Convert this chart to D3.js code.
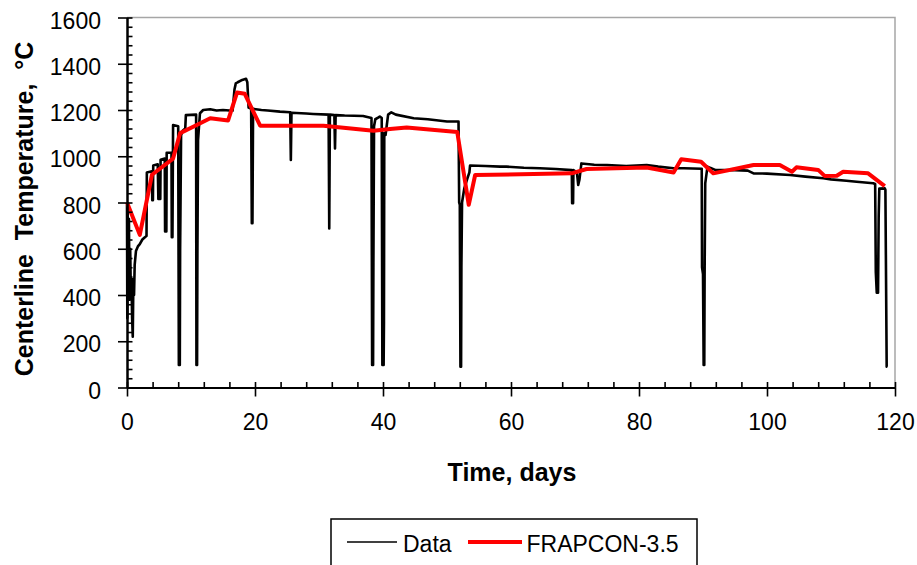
<!DOCTYPE html>
<html>
<head>
<meta charset="utf-8">
<script src="https://cdn.jsdelivr.net/npm/d3@7"></script>
<style>
  html, body { margin: 0; padding: 0; background: #fff; }
  svg { display: block; font-family: "Liberation Sans", Arial, sans-serif; }
</style>
</head>
<body>
<svg id="chart" width="917" height="565"></svg>
<script>
// ---- Data ----
const dataTime = [
  0.0, 0.05, 0.1, 0.2, 0.3, 0.4, 0.5, 0.6, 0.7, 0.8, 0.9, 1.0, 1.1, 1.2, 1.4, 1.7, 2.0, 2.4, 2.8, 3.05,
  3.1, 3.9, 3.95, 4.05, 4.1, 4.8, 4.9, 5.2, 5.25, 5.9, 5.95, 6.15, 6.2, 6.95, 7.0, 7.1, 7.2, 8.0,
  8.1, 8.25, 8.3, 8.45, 8.7, 9.1, 9.2, 10.8, 10.85, 10.95, 11.0, 11.1, 11.4, 11.9, 13.0, 14.0, 15.0,
  16.5, 16.8, 17.0, 17.3, 18.0, 18.6, 18.8, 19.0, 19.4, 19.5, 19.6, 19.7, 21.0, 22.0, 23.9, 25.5,
  25.6, 25.7, 28.0, 29.1, 31.5, 31.6, 31.7, 32.4, 32.5, 32.6, 34.0, 36.9, 38.2, 38.3, 38.45, 38.5,
  38.6, 38.8, 39.3, 39.5, 39.8, 39.9, 40.1, 40.15, 40.2, 40.4, 40.8, 41.3, 42.0, 44.8, 47.0, 50.0,
  51.8, 51.9, 52.0, 52.1, 52.2, 52.25, 52.35, 52.7, 53.2, 53.5, 53.6, 56.0, 58.3, 59.3, 62.0, 64.5,
  67.0, 69.5, 69.55, 69.7, 69.75, 70.3, 70.5, 70.7, 71.0, 73.0, 75.0, 78.0, 81.2, 83.0, 85.4, 87.0,
  89.8, 89.85, 90.0, 90.1, 90.2, 90.25, 90.35, 90.7, 91.1, 92.0, 95.0, 97.0, 97.9, 100.0, 103.6,
  106.0, 108.8, 110.0, 112.4, 114.0, 116.6, 116.9, 117.0, 117.15, 117.35, 117.45, 117.55, 118.4,
  118.5, 118.7, 118.8
];
const dataTemp = [
  790, 300, 760, 400, 730, 380, 600, 400, 470, 300, 220, 470, 400, 530, 590, 610, 620, 640, 650, 655,
  930, 935, 810, 810, 960, 965, 815, 815, 985, 990, 675, 675, 1015, 1015, 650, 650, 1135, 1130,
  97, 97, 590, 1090, 1110, 1120, 1178, 1180, 97, 97, 580, 1070, 1186, 1200, 1203, 1198, 1200,
  1197, 1290, 1315, 1320, 1330, 1335, 1320, 1210, 1205, 710, 710, 1205, 1200, 1198, 1193, 1190,
  984, 1188, 1185, 1183, 1180, 688, 1180, 1178, 1034, 1178, 1176, 1174, 1165, 97, 97, 540,
  1130, 1160, 1168, 1172, 1165, 97, 97, 285, 1100, 1092, 1180, 1190, 1180, 1164, 1160, 1150,
  1150, 800, 790, 90, 90, 520, 800, 861, 905, 930, 960, 958, 955, 955, 950, 948,
  945, 940, 797, 797, 940, 930, 876, 900, 969, 963, 962, 958, 962, 955, 948, 948,
  946, 520, 490, 97, 97, 480, 883, 955, 950, 940, 940, 938, 926, 925, 919,
  912, 905, 900, 894, 890, 883, 880, 500, 410, 410, 740, 860, 861,
  855, 90, 90
];

const frapconTime = [
  0, 2.0, 3.9, 7.2, 8.3, 10.9, 13.0, 15.8, 17.2, 18.4, 20.8, 30.7, 38.5, 41.1, 43.7, 51.6, 53.4,
  54.4, 69.5, 71.8, 81.2, 85.4, 86.6, 89.7, 91.6, 97.9, 102.0, 103.9, 104.6, 108.0, 109.0, 110.9,
  111.9, 115.8, 118.4
];
const frapconTemp = [
  800, 660, 920, 990, 1100, 1135, 1164, 1155, 1276, 1270, 1132, 1132, 1110, 1118, 1124, 1105, 790,
  919, 926, 945, 951, 930, 987, 976, 926, 962, 962, 933, 952, 941, 915, 916,
  933, 926, 871
];

const xMajorTicks = [0, 20, 40, 60, 80, 100, 120];
const xMinorTicks = d3.range(0, 121, 4);
const yMajorTicks = [0, 200, 400, 600, 800, 1000, 1200, 1400, 1600];
const yMinorTicks = d3.range(0, 1601, 40);

const seriesNames = ["Data", "FRAPCON-3.5"];
const xTitle = "Time, days";
const yTitle = "Centerline  Temperature,  °C";

// ---- Layout ----
const svg = d3.select("#chart");
const plotL = 127, plotR = 895, plotT = 17.5, plotB = 387.5;

const x = d3.scaleLinear().domain([0, 120]).range([plotL, plotR]);
const y = d3.scaleLinear().domain([0, 1600]).range([plotB, plotT]);

// frame (top & right, gray)
svg.append("path")
  .attr("d", `M${plotL},${plotT}H${plotR}V${plotB}`)
  .attr("fill", "none").attr("stroke", "#a6a6a6").attr("stroke-width", 1.5);

// series
const line = d3.line().x(d => x(d[0])).y(d => y(d[1]));
const dataPts = dataTime.map((t, i) => [t, dataTemp[i]]);
const fraPts = frapconTime.map((t, i) => [t, frapconTemp[i]]);

svg.append("path").datum(dataPts)
  .attr("d", line).attr("fill", "none")
  .attr("stroke", "#000").attr("stroke-width", 2.6)
  .attr("stroke-linejoin", "round");

svg.append("path").datum(fraPts)
  .attr("d", line).attr("fill", "none")
  .attr("stroke", "#ff0000").attr("stroke-width", 4)
  .attr("stroke-linejoin", "round");

// axes
function styleAxis(g) {
  g.selectAll("path.domain").attr("stroke", "#000").attr("stroke-width", 2);
  g.selectAll(".tick line").attr("stroke", "#000").attr("stroke-width", 1.6);
}

// y: inner ticks (minor + major)
svg.append("g").attr("transform", `translate(${plotL},0)`)
  .call(d3.axisRight(y).tickValues(yMinorTicks).tickSize(5.5).tickSizeOuter(0).tickFormat(""))
  .call(styleAxis);
// y: outer major ticks + labels
const yAx = svg.append("g").attr("transform", `translate(${plotL},0)`)
  .call(d3.axisLeft(y).tickValues(yMajorTicks).tickSize(9).tickPadding(17).tickSizeOuter(0).tickFormat(d3.format("d")))
  .call(styleAxis);
yAx.selectAll("text").attr("font-size", 23).attr("font-family", "Liberation Sans, Arial, sans-serif")
  .attr("fill", "#000").attr("dy", "0.465em");

// x: inner ticks
svg.append("g").attr("transform", `translate(0,${plotB})`)
  .call(d3.axisTop(x).tickValues(xMinorTicks).tickSize(5.5).tickSizeOuter(0).tickFormat(""))
  .call(styleAxis);
// x: outer major ticks + labels
const xAx = svg.append("g").attr("transform", `translate(0,${plotB})`)
  .call(d3.axisBottom(x).tickValues(xMajorTicks).tickSize(9).tickPadding(16.7).tickSizeOuter(0).tickFormat(d3.format("d")))
  .call(styleAxis);
xAx.selectAll("text").attr("font-size", 23).attr("font-family", "Liberation Sans, Arial, sans-serif")
  .attr("fill", "#000");

// titles
svg.append("text")
  .attr("x", 512).attr("y", 481)
  .attr("text-anchor", "middle")
  .attr("font-size", 25).attr("font-weight", "bold")
  .text(xTitle);

svg.append("text")
  .attr("transform", "translate(33,209) rotate(-90)")
  .attr("text-anchor", "middle")
  .attr("font-size", 25).attr("font-weight", "bold")
  .style("white-space", "pre")
  .text(yTitle);

// legend
const lg = svg.append("g");
lg.append("rect")
  .attr("x", 331).attr("y", 519).attr("width", 366).attr("height", 70)
  .attr("fill", "#fff").attr("stroke", "#000").attr("stroke-width", 1.5);
const legendItems = [
  { name: seriesNames[0], color: "#000", w: 1.6, x1: 347, x2: 397, tx: 403 },
  { name: seriesNames[1], color: "#ff0000", w: 4, x1: 468, x2: 522, tx: 526.5 }
];
legendItems.forEach(it => {
  lg.append("line").attr("x1", it.x1).attr("x2", it.x2).attr("y1", 542).attr("y2", 542)
    .attr("stroke", it.color).attr("stroke-width", it.w);
  lg.append("text").attr("x", it.tx).attr("y", 551.5)
    .attr("font-size", 23).attr("fill", "#000").text(it.name);
});
</script>
</body>
</html>
